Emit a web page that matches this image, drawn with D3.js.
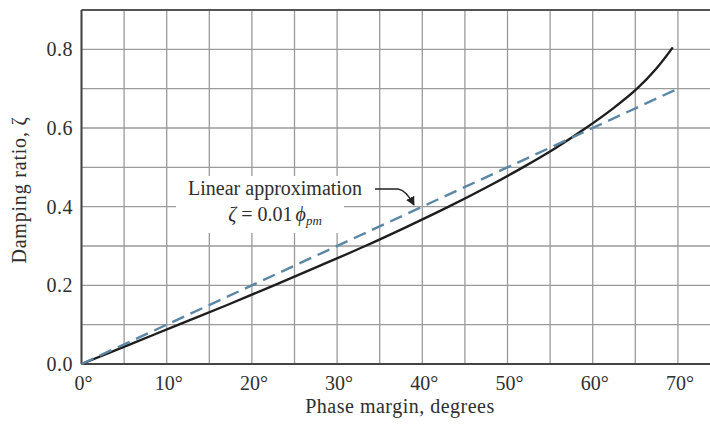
<!DOCTYPE html>
<html><head><meta charset="utf-8">
<script src="https://cdn.jsdelivr.net/npm/d3@7"></script>
<style>body{margin:0;background:#fff}svg{display:block}text{font-family:"Liberation Serif","DejaVu Serif",serif;fill:#2e2e2e}</style>
</head><body><svg id="c" width="710" height="425"></svg>
<script>
const phaseMargin = [0,5.7,11.4,17.1,22.6,28.0,33.3,38.3,43.1,47.6,51.8,55.7,59.2,62.4,65.2,67.5,69.4];
const dampingExact = [0,0.05,0.10,0.15,0.20,0.25,0.30,0.35,0.40,0.45,0.50,0.55,0.60,0.65,0.70,0.752,0.805];
const linearPM = [0,70];
const linearZeta = [0,0.70];
const xTicks = [0,10,20,30,40,50,60,70];
const yTicks = [0.0,0.2,0.4,0.6,0.8];
const xGrid = d3.range(0,75,5);
const yGrid = [0,0.1,0.2,0.3,0.4,0.5,0.6,0.7,0.8,0.9];

const svg = d3.select("#c");
const x = d3.scaleLinear().domain([0,74]).range([81.5,712]);
const y = d3.scaleLinear().domain([0,0.9]).range([364,10]);

const g = svg.append("g");
g.selectAll(".vg").data(xGrid).join("line")
 .attr("x1",d=>x(d)).attr("x2",d=>x(d)).attr("y1",y(0)).attr("y2",y(0.9))
 .attr("stroke","#9a9a9a").attr("stroke-width",1.3);
g.selectAll(".hg").data(yGrid).join("line")
 .attr("x1",x(0)).attr("x2",712).attr("y1",d=>y(d)).attr("y2",d=>y(d))
 .attr("stroke","#9a9a9a").attr("stroke-width",1.3);

// axes frame
svg.append("line").attr("x1",x(0)).attr("x2",712).attr("y1",y(0)).attr("y2",y(0)).attr("stroke","#444").attr("stroke-width",2);
svg.append("line").attr("x1",x(0)).attr("x2",712).attr("y1",y(0.9)).attr("y2",y(0.9)).attr("stroke","#555").attr("stroke-width",2);
svg.append("line").attr("x1",x(0)).attr("x2",x(0)).attr("y1",y(0)).attr("y2",y(0.9)).attr("stroke","#444").attr("stroke-width",2);

// tick labels
svg.selectAll(".xt").data(xTicks).join("text")
 .attr("x",d=>x(d)+2).attr("y",390).attr("text-anchor","middle").attr("font-size",20)
 .text(d=>d+"°");
svg.selectAll(".yt").data(yTicks).join("text")
 .attr("x",73).attr("y",d=>y(d)+7).attr("text-anchor","end").attr("font-size",20).attr("letter-spacing",0.5)
 .text(d=>d.toFixed(1));

// axis titles
svg.append("text").attr("x",400).attr("y",413).attr("text-anchor","middle").attr("font-size",20).attr("letter-spacing",0.5)
 .text("Phase margin, degrees");
svg.append("text").attr("transform","translate(26,190) rotate(-90)").attr("text-anchor","middle").attr("font-size",20).attr("letter-spacing",0.8)
 .text("Damping ratio, ζ");

// annotation background
svg.append("rect").attr("x",176).attr("y",176).attr("width",196).attr("height",25).attr("fill","#fff");
svg.append("rect").attr("x",176).attr("y",201).attr("width",168).attr("height",32).attr("fill","#fff");

// lines
const line = d3.line().x(d=>x(d[0])).y(d=>y(d[1])).curve(d3.curveCatmullRom.alpha(0.5));
svg.append("path").datum(phaseMargin.map((p,i)=>[p,dampingExact[i]]))
 .attr("d",line).attr("fill","none").attr("stroke","#1e1e1e").attr("stroke-width",2.4);
svg.append("path").datum(linearPM.map((p,i)=>[p,linearZeta[i]]))
 .attr("d",d3.line().x(d=>x(d[0])).y(d=>y(d[1]))).attr("fill","none")
 .attr("stroke","#5b87a6").attr("stroke-width",2.4).attr("stroke-dasharray","13,7");

svg.append("text").attr("x",275).attr("y",195).attr("text-anchor","middle").attr("font-size",20).text("Linear approximation");
const t2 = svg.append("text").attr("x",275).attr("y",221).attr("text-anchor","middle").attr("font-size",20);
t2.append("tspan").attr("font-style","italic").text("ζ");
t2.append("tspan").text(" = 0.01");
t2.append("tspan").attr("font-style","italic").attr("dx",3).text("ϕ");
t2.append("tspan").attr("font-style","italic").attr("font-size",13).attr("dy",4).text("pm");

// arrow
svg.append("defs").append("marker").attr("id","ah").attr("viewBox","0 0 10 10").attr("refX",9).attr("refY",5)
 .attr("markerWidth",7).attr("markerHeight",7).attr("orient","auto-start-reverse")
 .append("path").attr("d","M0,0 L10,5 L0,10 z").attr("fill","#222");
svg.append("path").attr("d","M375,189 L398,189 Q406,190 414,205").attr("fill","none")
 .attr("stroke","#222").attr("stroke-width",1.3).attr("marker-end","url(#ah)");
</script></body></html>
